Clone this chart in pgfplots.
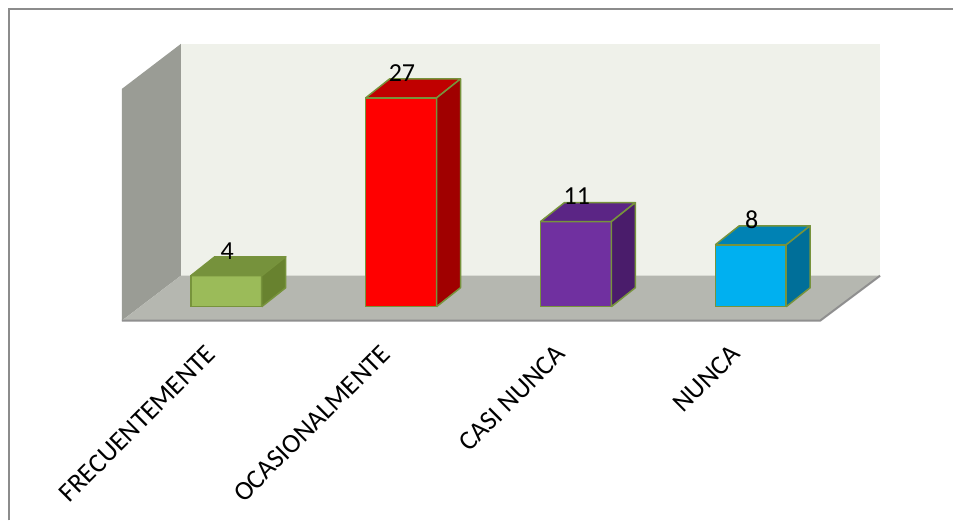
\documentclass[border=0pt]{standalone}
\usepackage{fontspec}
\setmainfont{Carlito}
\usepackage{pgfplots}
\pgfplotsset{compat=1.18}
\definecolor{wallback}{HTML}{EFF1EA}
\definecolor{wallside}{HTML}{9A9C95}
\definecolor{floorc}{HTML}{B5B7B0}
\definecolor{floorline}{HTML}{8F8F8F}
\definecolor{framec}{HTML}{8C8C8C}
\definecolor{edgec}{HTML}{77933C}
\definecolor{gA}{HTML}{9BBB59}\definecolor{gAt}{HTML}{76923C}\definecolor{gAs}{HTML}{68822F}
\definecolor{rA}{HTML}{FF0000}\definecolor{rAt}{HTML}{C00000}\definecolor{rAs}{HTML}{A00000}
\definecolor{pA}{HTML}{7030A0}\definecolor{pAt}{HTML}{5B2585}\definecolor{pAs}{HTML}{4A1C6B}
\definecolor{bA}{HTML}{00B0F0}\definecolor{bAt}{HTML}{0082B4}\definecolor{bAs}{HTML}{006F99}
\begin{document}
\begin{tikzpicture}
\begin{axis}[
  width=954pt, height=521pt, scale only axis,
  xmin=-1.29429, xmax=4.15714, ymin=-27.6486, ymax=39.6641,
  axis lines=none, clip=false,
]
% background and frame
\path[fill=white] (rel axis cs:0,0) rectangle (rel axis cs:1,1);
\draw[framec, line width=2pt] (rel axis cs:0.009434,0) -- (rel axis cs:0.009434,0.98273) -- (rel axis cs:1,0.98273);
% walls and floor
\fill[wallback] (rel axis cs:0.18973,0.47025) rectangle (rel axis cs:0.92348,0.91555);
\fill[wallside] (rel axis cs:0.12788,0.38388) -- (rel axis cs:0.12788,0.82917) -- (rel axis cs:0.18973,0.91555) -- (rel axis cs:0.18973,0.47025) -- cycle;
\fill[floorc] (rel axis cs:0.12788,0.38388) -- (rel axis cs:0.86059,0.38388) -- (rel axis cs:0.92348,0.47025) -- (rel axis cs:0.18973,0.47025) -- cycle;
\draw[floorline, line width=2pt] (rel axis cs:0.12788,0.38388) -- (rel axis cs:0.86059,0.38388) -- (rel axis cs:0.92348,0.47025);
% bars: front faces
\addplot[ybar, bar width=71pt, bar shift=0pt, fill=gA, draw=edgec, line width=1.5pt] coordinates {(0,4)};
\addplot[ybar, bar width=71pt, bar shift=0pt, fill=rA, draw=edgec, line width=1.5pt] coordinates {(1,27)};
\addplot[ybar, bar width=71pt, bar shift=0pt, fill=pA, draw=edgec, line width=1.5pt] coordinates {(2,11)};
\addplot[ybar, bar width=71pt, bar shift=0pt, fill=bA, draw=edgec, line width=1.5pt] coordinates {(3,8)};
% top faces
\addplot[fill=gAt, draw=edgec, line width=1.5pt, line join=round] coordinates {(-0.2029,4) (0.2029,4) (0.3400,6.455) (-0.0658,6.455) (-0.2029,4)};
\addplot[fill=rAt, draw=edgec, line width=1.5pt, line join=round] coordinates {(0.7971,27) (1.2029,27) (1.3400,29.455) (0.9342,29.455) (0.7971,27)};
\addplot[fill=pAt, draw=edgec, line width=1.5pt, line join=round] coordinates {(1.7971,11) (2.2029,11) (2.3400,13.455) (1.9342,13.455) (1.7971,11)};
\addplot[fill=bAt, draw=edgec, line width=1.5pt, line join=round] coordinates {(2.7971,8) (3.2029,8) (3.3400,10.455) (2.9342,10.455) (2.7971,8)};
% side faces
\addplot[fill=gAs, draw=edgec, line width=1.5pt, line join=round] coordinates {(0.2029,0) (0.3400,2.455) (0.3400,6.455) (0.2029,4) (0.2029,0)};
\addplot[fill=rAs, draw=edgec, line width=1.5pt, line join=round] coordinates {(1.2029,0) (1.3400,2.455) (1.3400,29.455) (1.2029,27) (1.2029,0)};
\addplot[fill=pAs, draw=edgec, line width=1.5pt, line join=round] coordinates {(2.2029,0) (2.3400,2.455) (2.3400,13.455) (2.2029,11) (2.2029,0)};
\addplot[fill=bAs, draw=edgec, line width=1.5pt, line join=round] coordinates {(3.2029,0) (3.3400,2.455) (3.3400,10.455) (3.2029,8) (3.2029,0)};
% value labels
\node[anchor=base, inner sep=0pt, font=\fontsize{26}{30}\selectfont] at (axis cs:0.005,6.15) {4};
\node[anchor=base, inner sep=0pt, font=\fontsize{26}{30}\selectfont] at (axis cs:1.005,29.15) {27};
\node[anchor=base, inner sep=0pt, font=\fontsize{26}{30}\selectfont] at (axis cs:2.005,13.15) {11};
\node[anchor=base, inner sep=0pt, font=\fontsize{26}{30}\selectfont] at (axis cs:3.005,10.15) {8};
% category labels
\node[rotate=45, anchor=east, inner sep=0pt, font=\fontsize{27}{32}\selectfont] at (axis cs:-0.086,-5.55) {FRECUENTEMENTE};
\node[rotate=45, anchor=east, inner sep=0pt, font=\fontsize{27}{32}\selectfont] at (axis cs:0.914,-5.55) {OCASIONALMENTE};
\node[rotate=45, anchor=east, inner sep=0pt, font=\fontsize{27}{32}\selectfont] at (axis cs:1.914,-5.55) {CASI NUNCA};
\node[rotate=45, anchor=east, inner sep=0pt, font=\fontsize{27}{32}\selectfont] at (axis cs:2.914,-5.55) {NUNCA};
\end{axis}
\end{tikzpicture}
\end{document}
